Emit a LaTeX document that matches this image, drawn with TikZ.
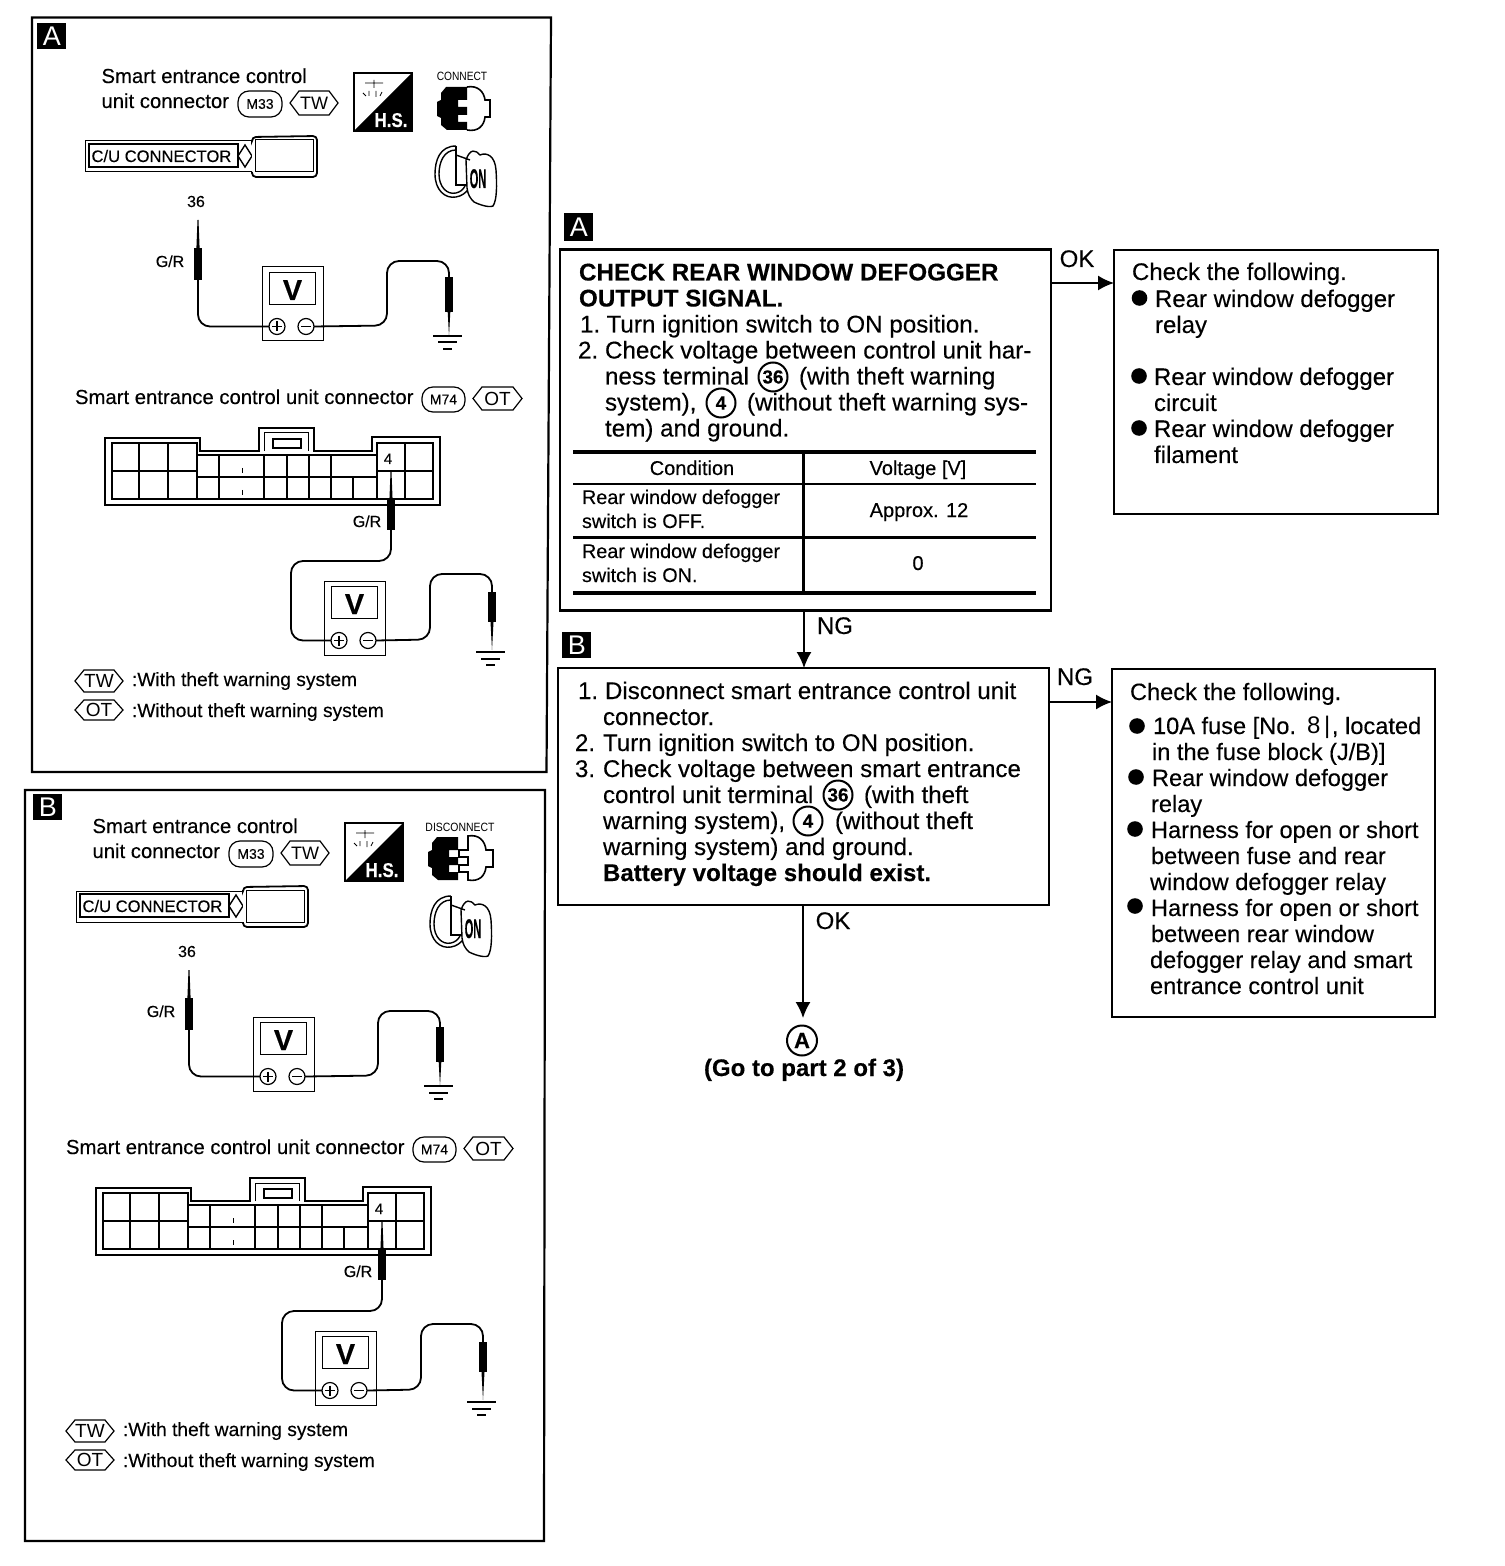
\documentclass[tikz,border=0pt]{standalone}
\usepackage{fontspec}
\setmainfont[FakeBold=0.25,BoldFont={Liberation Sans Bold}]{Liberation Sans}
\newfontfamily\plainf{Liberation Sans}
\newcounter{txtc}
\makeatletter
\newcommand\fs[1]{\@tempdima=#1pt\@tempdima=0.5\@tempdima\fontsize{\@tempdima}{\@tempdima}\selectfont}
\makeatother
\usetikzlibrary{arrows.meta}
\tikzset{
 tw/.style={anchor=base west,inner sep=0pt,outer sep=0pt},
 tm/.style={anchor=base,inner sep=0pt,outer sep=0pt},
 panelline/.style={draw=black,line width=1.1pt,line join=miter},
 flowbox/.style={draw=black,line width=1.1pt,anchor=north west,inner sep=0pt,outer sep=0pt,fill=white},
 flowarrow/.style={draw=black,line width=0.8pt,-{Latex[length=8pt,width=7.5pt]}},
 tagbox/.style={fill=black,text=white,inner sep=0pt,anchor=north west,font=\plainf\fs{27}},
 wire/.style={draw=black,line width=0.9pt,rounded corners=6pt},
 thin line/.style={draw=black,line width=0.6pt},
 gridline/.style={draw=black,line width=0.75pt},
 probebody/.style={fill=black,inner sep=0pt,outer sep=0pt,anchor=north},
 dialcircle/.style={circle,draw=black,line width=0.6pt,inner sep=0pt,minimum size=8pt,outer sep=0pt},
 numcircle/.style={circle,draw=black,line width=1pt,inner sep=0pt,minimum size=14.5pt,outer sep=0pt,font=\bfseries\fs{19}},
 metrbox/.style={draw=black,line width=0.5pt,anchor=north west,inner sep=0pt,outer sep=0pt,minimum width=30.5pt,minimum height=37pt},
 dispbox/.style={draw=black,line width=0.8pt,anchor=north west,inner sep=0pt,outer sep=0pt,minimum width=23pt,minimum height=16pt},
}
\newcommand\tl[4]{\stepcounter{txtc}\node[tw,font=\fs{#3}] (t\arabic{txtc}) at (#1,#2) {#4};}
\newcommand\tc[4]{\stepcounter{txtc}\node[tm,font=\fs{#3}] (t\arabic{txtc}) at (#1,#2) {#4};}
\newcommand\hexag[6]{\draw[thin line] (#1,{(#2+#4)/2}) -- (#1+9,#2) -- (#3-9,#2) -- (#3,{(#2+#4)/2}) -- (#3-9,#4) -- (#1+9,#4) -- cycle;
 \stepcounter{txtc}\node[inner sep=0pt,font=\plainf\fs{#6}] (t\arabic{txtc}) at ({(#1+#3)/2},{(#2+#4)/2}) {#5};}
\newcommand\pill[5]{\draw[thin line,rounded corners=5.5pt] (#1,#2) rectangle (#3,#4);
 \stepcounter{txtc}\node[inner sep=0pt,font=\fs{14}] (t\arabic{txtc}) at ({(#1+#3)/2},{(#2+#4)/2}) {#5};}
\newcommand\meterv[3]{%
 \node[metrbox] (#1m) at (#2,#3) {};
 \node[dispbox] (#1d) at (#2+7.5,#3+5.5) {};
 \stepcounter{txtc}\node[tm,font=\bfseries\fs{29}] (t\arabic{txtc}) at (#2+30.5,#3+33) {V};
 \node[dialcircle] (#1p) at (#2+15,#3+59.5) {};
 \node[dialcircle] (#1n) at (#2+44,#3+59.5) {};
 \draw[thin line] (#1p.center)+(-5,0) -- +(5,0) (#1p.center)+(0,-5) -- +(0,5);
 \draw[thin line] (#1n.center)+(-5,0) -- +(5,0);
}
\newcommand\probeup[5]{%
 \node[probebody,minimum width=4.2pt,minimum height=#5*0.5pt-#4*0.5pt] (#1) at (#2,#4) {};
 \fill (#2-1.6,#4) -- (#2-.5,#3) -- (#2+.5,#3) -- (#2+1.6,#4) -- cycle;
}
\newcommand\gnd[3]{%
 \draw[line width=1pt] (#1-15,#2) -- (#1+14,#2);
 \draw[line width=1pt] (#1-10,#2+6.5) -- (#1+9,#2+6.5);
 \draw[line width=1.1pt] (#1-5,#2+13) -- (#1+4,#2+13);
}
\newcommand\hsicon{%
 \draw[line width=.6pt] (354,73) rectangle (412,131);
 \fill (412,73) -- (412,131) -- (354,131) -- cycle;
 \draw[line width=.4pt] (365,83) -- (383,83) (374,80) -- (374,88) (363,93) -- (366,96) (369,96) -- (369,91) (376,97) -- (376,91) (380,96) -- (382,92);
 \stepcounter{txtc}\node[tm,text=white,font=\bfseries\fs{20},xscale=.85] (t\arabic{txtc}) at (391,127) {H.S.};
}
\newcommand\blackplug{%
 \fill (467,87) -- (446,87) -- (441,93) -- (441,100) -- (437,102) -- (437,116) -- (441,118) -- (441,125) -- (447,130) -- (467,130) -- (467,122) -- (458,122) -- (458,115) -- (467,115) -- (467,107) -- (458,107) -- (458,100) -- (467,100) -- cycle;
}
\newcommand\keyicon{%
 \draw[line width=.7pt] (456,146) .. controls (440,146) and (435,160) .. (435,174) .. controls (435,190) and (445,199) .. (456,197) .. controls (462,196) and (465,193) .. (468,190);
 \draw[line width=.7pt] (456,150) .. controls (444,150) and (439,162) .. (439,174) .. controls (439,187) and (447,195) .. (456,193) .. controls (460,192) and (463,190) .. (465,186);
 \draw[line width=.7pt] (456,146) -- (456,185) -- (466,185);
 \draw[line width=.7pt,fill=white] (466,160) .. controls (470,148) and (476,150) .. (480,155) .. controls (487,152) and (495,156) .. (496,170) .. controls (497,185) and (497,200) .. (493,206) .. controls (488,208) and (478,204) .. (474,202) .. controls (470,198) and (468,195) .. (467,188) -- (466,160);
 \draw[line width=.7pt] (456,155) -- (470,160);
 \stepcounter{txtc}\node[tm,font=\bfseries\fs{20},xscale=.55,yscale=1.35] (t\arabic{txtc}) at (478,188) {ON};
}
\newcommand\panelbody[1]{%
 \tl{101.5}{83}{20.3}{Smart entrance control}
 \tl{101.5}{108}{20.3}{unit connector}
 \pill{238}{91}{282}{117}{M33}
 \hexag{290}{91}{338}{115}{TW}{18}
 \hsicon
 \ifnum#1=0
  \stepcounter{txtc}\node[tm,font=\plainf\fs{12},xscale=.85] (t\arabic{txtc}) at (462,81) {CONNECT};
  \blackplug
  \draw[line width=.8pt] (467,87) .. controls (478,85) and (484,92) .. (485,100) -- (490,100) -- (490,117) -- (485,117) .. controls (484,126) and (478,132) .. (467,130);
 \else
  \stepcounter{txtc}\node[tm,font=\plainf\fs{12},xscale=.87] (t\arabic{txtc}) at (469,81) {DISCONNECT};
  \blackplug
  \draw[line width=.8pt] (477,86) .. controls (488,84) and (494,91) .. (495,100) -- (502,100) -- (502,117) -- (495,117) .. controls (494,126) and (488,132) .. (477,130) -- (477,122) -- (468,122) -- (468,115) -- (477,115) -- (477,107) -- (468,107) -- (468,100) -- (477,100) -- cycle;
 \fi
 \begin{scope}[shift={(#1*4,0)}]\keyicon\end{scope}
 \draw[line width=.5pt] (85,141) rectangle (252,172);
 \draw[line width=.8pt] (89,144) rectangle (238,167);
 \draw[line width=.7pt] (238,156) -- (245,145) -- (252,156) -- (245,167) -- cycle;
 \draw[line width=.9pt,rounded corners=2pt,fill=white] (252,140) -- (252,137) -- (317,136) -- (317,177) -- (252,177) -- (252,172);
 \draw[line width=.5pt,fill=white] (255,140) rectangle (313,172);
 \tl{91.5}{162}{16.6}{C/U CONNECTOR}
 \tc{196}{207}{16}{36}
 \tc{170}{267}{16}{G/R}
 \probeup{pa}{198}{220}{248}{280}
 \meterv{a}{262}{267}
 \draw[wire] (pa.south) |- (ap.west);
 \coordinate (gwa) at (449,277);
 \draw[wire] (an.east) -- (387,325.5) -- (387,261) -- (449,261) -- (gwa);
 \node[probebody,minimum width=3.6pt,minimum height=17.5pt] (pb) at (gwa) {};
 \fill (447.7,312) -- (449,336) -- (450.3,312) -- cycle;
 \gnd{448}{336}{}
 \tl{75}{404}{20.3}{Smart entrance control unit connector}
 \pill{422}{387}{465}{412}{M74}
 \hexag{473}{387}{522}{410}{OT}{19}
 \draw[line width=.6pt] (105,438) -- (200,438) -- (200,451) -- (259,451) -- (259,428) -- (314,428) -- (314,451) -- (372,451) -- (372,437) -- (440,437) -- (440,505) -- (105,505) -- cycle;
 \draw[line width=.5pt] (264,451) -- (264,433) -- (308,433) -- (308,451);
 \draw[line width=.8pt] (273,439) rectangle (301,448);
 \draw[gridline] (112,443) rectangle (197,499);
 \draw[gridline] (197,455) rectangle (377,499);
 \draw[gridline] (377,443) rectangle (433,499);
 \draw[gridline] (112,471) -- (197,471) (197,477) -- (377,477) (377,471) -- (433,471);
 \draw[thin line] (139,443) -- (139,499) (168,443) -- (168,499) (405,443) -- (405,499) (219,455) -- (219,499)
  (264,455) -- (264,499) (287,455) -- (287,499) (309,455) -- (309,499) (331,455) -- (331,499) (353,477) -- (353,499);
 \draw[line width=.25pt] (242,468) -- (242,473) (242,490) -- (242,495);
 \tc{388}{464}{15}{4}
 \tc{367}{527}{16}{G/R}
 \probeup{pc}{391}{472}{500}{530}
 \meterv{c}{324}{581}
 \coordinate (bendc) at (291,561);
 \draw[wire] (pc.south) -- (391,561) -- (bendc) |- (cp.west);
 \coordinate (gwc) at (492,592);
 \draw[wire] (cn.east) -- (430,639.5) -- (430,574) -- (492,574) -- (gwc);
 \node[probebody,minimum width=4pt,minimum height=15pt] (pd) at (gwc) {};
 \fill (490.5,622) -- (492,650) -- (493.5,622) -- cycle;
 \gnd{491}{652}{}
 \hexag{75}{670}{123}{692}{TW}{19}
 \tl{132}{686}{19.2}{:With theft warning system}
 \hexag{75}{700}{123}{720}{OT}{19}
 \tl{132}{717}{19.2}{:Without theft warning system}
}
\begin{document}
\begin{tikzpicture}[x=0.5pt,y=-0.5pt]
\useasboundingbox (0,0) rectangle (1504,1566);
\fill[white] (0,0) rectangle (1504,1566);
\draw[panelline] (32,17.5) -- (551,17.5) -- (546.5,772) -- (32,772) -- cycle;
\node[tagbox,minimum width=14.5pt,minimum height=13pt] (tagpa) at (37,23) {A};
\panelbody{0}
\draw[panelline] (25,790) -- (545,790) -- (544,1541) -- (25,1541) -- cycle;
\node[tagbox,minimum width=14.5pt,minimum height=13pt] (tagpb) at (33,794) {B};
\begin{scope}[shift={(-9,750)}]
\panelbody{1}
\end{scope}
\node[tagbox,minimum width=14.5pt,minimum height=14pt] (tagfa) at (564,213) {A};
\node[flowbox,minimum width=245.5pt,minimum height=180.5pt] (boxA) at (560,249.5) {};
\node[flowbox,minimum width=162pt,minimum height=132pt] (okA) at (1114,250) {};
\node[tagbox,minimum width=14.5pt,minimum height=13pt] (tagfb) at (562,632) {B};
\node[flowbox,minimum width=245.5pt,minimum height=118.5pt] (boxB) at (558,668) {};
\node[flowbox,minimum width=161.5pt,minimum height=174pt] (ngB) at (1112,669) {};
\coordinate (xa) at (804,0);
\coordinate (xb) at (803,0);
\coordinate (ya) at (0,283);
\coordinate (yb) at (0,702);
\draw[flowarrow] (boxA.east |- ya) -- (okA.west |- ya);
\draw[flowarrow] (boxB.east |- yb) -- (ngB.west |- yb);
\draw[flowarrow] (xa |- boxA.south) -- (xa |- boxB.north);
\node[numcircle,font=\bfseries\fs{22},minimum size=15pt] (goA) at (802,1040.5) {A};
\coordinate (arrowend) at (803,1018);
\draw[flowarrow] (xb |- boxB.south) -- (arrowend);
\tc{1077}{267}{24}{OK}
\tc{835}{634}{24}{NG}
\tc{1075}{685}{24}{NG}
\tc{833}{929}{24}{OK}
\tc{804}{1076}{24}{\bfseries (Go to part 2 of 3)}
\tl{579}{280.5}{24.2}{\bfseries CHECK REAR WINDOW DEFOGGER}
\tl{579}{306.5}{24.2}{\bfseries OUTPUT SIGNAL.}
\tl{580}{332.5}{24.2}{1.}
\tl{606.5}{332.5}{24.2}{Turn ignition switch to ON position.}
\tl{578}{358.5}{24.2}{2.}
\tl{605}{358.5}{24.2}{Check voltage between control unit har-}
\tl{605}{384.5}{24.2}{ness terminal}
\node[numcircle] (c36a) at (773,377) {36};
\tl{799}{384.5}{24.2}{(with theft warning}
\tl{605}{410.5}{24.2}{system),}
\node[numcircle] (c4a) at (721,403) {4};
\tl{747}{410.5}{24.2}{(without theft warning sys-}
\tl{605}{436.5}{24.2}{tem) and ground.}
\draw[line width=2pt] (573,452.5) -- (1036,452.5);
\draw[line width=1.2pt] (573,484) -- (1036,484);
\draw[line width=1.2pt] (573,537.5) -- (1036,537.5);
\draw[line width=2pt] (573,593) -- (1036,593);
\draw[line width=1.1pt] (803.5,452) -- (803.5,591);
\tc{692}{475}{20}{Condition}
\tc{918}{475}{20}{Voltage [V]}
\tl{582}{504}{19.8}{Rear window defogger}
\tl{582}{528}{19.8}{switch is OFF.}
\tc{919}{517}{20}{Approx. 12}
\tl{582}{558}{19.8}{Rear window defogger}
\tl{582}{582}{19.8}{switch is ON.}
\tc{918}{570}{20}{0}
\tl{1132}{280}{24}{Check the following.}
\fill (1139.5,298) circle (7.8);
\tl{1155}{307}{24}{Rear window defogger}
\tl{1155}{333}{24}{relay}
\fill (1139,376) circle (7.8);
\tl{1154}{385}{24}{Rear window defogger}
\tl{1154}{411}{24}{circuit}
\fill (1139,428) circle (7.8);
\tl{1154}{437}{24}{Rear window defogger}
\tl{1154}{463}{24}{filament}
\tl{578}{699}{24.1}{1.}
\tl{605}{699}{24.1}{Disconnect smart entrance control unit}
\tl{603}{725}{24.1}{connector.}
\tl{575}{751}{24.1}{2.}
\tl{603}{751}{24.1}{Turn ignition switch to ON position.}
\tl{575}{777}{24.1}{3.}
\tl{603}{777}{24.1}{Check voltage between smart entrance}
\tl{603}{803}{24.1}{control unit terminal}
\node[numcircle] (c36b) at (838,795) {36};
\tl{864}{803}{24.1}{(with theft}
\tl{603}{829}{24.1}{warning system),}
\node[numcircle] (c4b) at (808,821) {4};
\tl{835}{829}{24.1}{(without theft}
\tl{603}{855}{24.1}{warning system) and ground.}
\tl{603}{881}{24.1}{\bfseries Battery voltage should exist.}
\tl{1130}{700}{23.6}{Check the following.}
\fill (1137,726) circle (7.8);
\tl{1153}{734}{23.6}{10A fuse [No.}
\stepcounter{txtc}\node[tw,font=\plainf\fs{24}] (t\arabic{txtc}) at (1307,733) {8};
\stepcounter{txtc}\node[tw,font=\plainf\fs{24}] (t\arabic{txtc}) at (1324,733) {|};
\tl{1332}{734}{23.6}{, located}
\tl{1152}{760}{23.6}{in the fuse block (J/B)]}
\fill (1136,777) circle (7.8);
\tl{1152}{786}{23.6}{Rear window defogger}
\tl{1151}{812}{23.6}{relay}
\fill (1135,829) circle (7.8);
\tl{1151}{838}{23.6}{Harness for open or short}
\tl{1151}{864}{23.6}{between fuse and rear}
\tl{1150}{890}{23.6}{window defogger relay}
\fill (1135,906) circle (7.8);
\tl{1151}{916}{23.6}{Harness for open or short}
\tl{1151}{942}{23.6}{between rear window}
\tl{1150}{968}{23.6}{defogger relay and smart}
\tl{1150}{994}{23.6}{entrance control unit}
\end{tikzpicture}
\end{document}
